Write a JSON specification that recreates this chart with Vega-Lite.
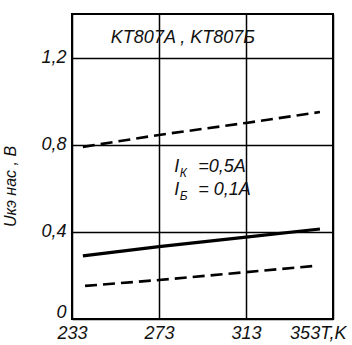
{
  "$schema": "https://vega.github.io/schema/vega-lite/v6.json",
  "autosize": "none",
  "width": 261,
  "height": 305,
  "padding": {"left": 72, "top": 14, "right": 19, "bottom": 26},
  "background": "white",
  "config": {
    "view": {"stroke": "black", "strokeWidth": 2},
    "font": "Liberation Sans",
    "axis": {"domain": false, "ticks": false, "grid": true, "gridColor": "black", "gridWidth": 1.5, "gridOpacity": 1, "labelFont": "Liberation Sans", "labelFontStyle": "italic", "labelFontSize": 18, "labelColor": "#111", "titleFont": "Liberation Sans", "titleFontStyle": "italic", "titleFontWeight": "normal", "titleColor": "#111"}
  },
  "datasets": {
    "curves": [
      {"series": "upper", "T": 238, "U": 0.79},
      {"series": "upper", "T": 273, "U": 0.845},
      {"series": "upper", "T": 313, "U": 0.9},
      {"series": "upper", "T": 347, "U": 0.95},
      {"series": "lower", "T": 239, "U": 0.152},
      {"series": "lower", "T": 273, "U": 0.179},
      {"series": "lower", "T": 313, "U": 0.215},
      {"series": "lower", "T": 345, "U": 0.244}
    ],
    "solid": [
      {"T": 238, "U": 0.29},
      {"T": 273, "U": 0.332},
      {"T": 313, "U": 0.376},
      {"T": 347, "U": 0.413}
    ],
    "main": [
      {"T": 284, "U": 1.29, "text": "KT807A , KT807Б"}
    ],
    "ann": [
      {"T": 280, "U": 0.675, "text": "I"},
      {"T": 280, "U": 0.57, "text": "I"},
      {"T": 291, "U": 0.675, "text": "=0,5A"},
      {"T": 291, "U": 0.57, "text": "= 0,1A"}
    ],
    "sub": [
      {"T": 282.5, "U": 0.652, "text": "К"},
      {"T": 282.5, "U": 0.547, "text": "Б"}
    ]
  },
  "encoding": {
    "x": {"field": "T", "type": "quantitative", "scale": {"domain": [233, 353], "nice": false, "zero": false},
      "axis": {"values": [233, 273, 313, 353], "labelPadding": 5, "labelFlush": false, "labelExpr": "datum.value == 353 ? '353T,K' : datum.label", "labelAlign": {"condition": {"test": "datum.value == 353", "value": "right"}, "value": "center"}, "labelOffset": {"condition": {"test": "datum.value == 353", "value": 13}, "value": 0}, "title": null}},
    "y": {"field": "U", "type": "quantitative", "scale": {"domain": [0, 1.4], "nice": false},
      "axis": {"values": [0, 0.4, 0.8, 1.2], "labelPadding": 6, "labelExpr": "replace(datum.label, '.', ',')", "format": ".1~f", "labelBaseline": {"condition": {"test": "datum.value == 0", "value": "alphabetic"}, "value": "middle"}, "labelOffset": {"condition": {"test": "datum.value == 0", "value": -2}, "value": 0}, "title": "Uкэ нас , В", "titleFontSize": 16, "titleX": -54, "titleY": 172, "titleAngle": -90}}
  },
  "layer": [
    {"data": {"name": "curves"}, "mark": {"type": "line", "color": "black", "strokeWidth": 2.6, "strokeDash": [12, 6]}, "encoding": {"detail": {"field": "series"}}},
    {"data": {"name": "solid"}, "mark": {"type": "line", "color": "black", "strokeWidth": 3.2}},
    {"data": {"name": "main"}, "mark": {"type": "text", "fontSize": 18, "fontStyle": "italic", "align": "center", "baseline": "middle", "color": "#111"}, "encoding": {"text": {"field": "text"}}},
    {"data": {"name": "ann"}, "mark": {"type": "text", "fontSize": 18, "fontStyle": "italic", "align": "left", "baseline": "alphabetic", "color": "#111"}, "encoding": {"text": {"field": "text"}}},
    {"data": {"name": "sub"}, "mark": {"type": "text", "fontSize": 12, "fontStyle": "italic", "align": "left", "baseline": "alphabetic", "color": "#111"}, "encoding": {"text": {"field": "text"}}}
  ]
}
